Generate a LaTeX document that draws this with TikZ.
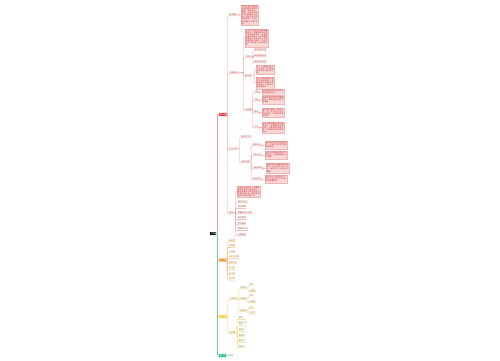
\documentclass[tikz,border=0pt]{standalone}
\usepackage{fontspec}
\setmainfont{Noto Sans CJK SC}
\XeTeXlinebreaklocale "zh"
\XeTeXlinebreakskip=0pt plus 1pt
\definecolor{bred}{HTML}{E5403A}
\definecolor{rline}{HTML}{EBA09E}
\definecolor{rtext}{HTML}{A83A36}
\definecolor{bfill}{HTML}{F9D8D8}
\definecolor{bline}{HTML}{F0B4B4}
\definecolor{btext}{HTML}{C62828}
\definecolor{borange}{HTML}{F29B30}
\definecolor{oline}{HTML}{F5C07A}
\definecolor{otext}{HTML}{B8741A}
\definecolor{byellow}{HTML}{F1D23A}
\definecolor{yline}{HTML}{E9D47A}
\definecolor{ytext}{HTML}{8E7A1E}
\definecolor{bgreen}{HTML}{1DBA8C}
\definecolor{gline}{HTML}{6ACFB0}
\definecolor{gtext}{HTML}{2A8F6E}
% connector: elbow from parent to the underline of a label
\newcommand\mmlink[4]{\draw[#1] (#2.east) -- (#2.east -| #4,0) |- (#3.south west) -- (#3.south east);}
% connector: elbow from parent to the middle of a text block
\newcommand\mmblock[4]{\draw[#1] (#2.east) -- (#2.east -| #4,0) |- (#3.west);}
\begin{document}
\begin{tikzpicture}[x=1pt,y=-1pt,
  every node/.style={inner sep=0pt,outer sep=0pt},
  lab/.style={anchor=west,font=\fontsize{2}{2.4}\selectfont,inner xsep=0.4pt,inner ysep=0.35pt,align=left},
  rlab/.style={lab,text=rtext},
  olab/.style={lab,text=otext},
  ylab/.style={lab,text=ytext},
  glab/.style={lab,text=gtext},
  bx/.style={anchor=west,font=\fontsize{2}{2.4}\selectfont,text=white,inner xsep=0.8pt,inner ysep=0.6pt,rounded corners=0.3pt},
  blk/.style={anchor=north west,fill=bfill,draw=bline,line width=0.2pt,text=btext,font=\fontsize{1.9}{2.1}\selectfont,inner sep=0.6pt,align=justify},
  rl/.style={draw=rline,line width=0.45pt,rounded corners=0.8pt},
  ol/.style={draw=oline,line width=0.45pt,rounded corners=0.8pt},
  yl/.style={draw=yline,line width=0.45pt,rounded corners=0.8pt},
  gl/.style={draw=gline,line width=0.45pt,rounded corners=0.8pt},
  rootl/.style={line width=0.6pt,rounded corners=0.8pt}
]
\useasboundingbox[fill=white] (0,0) rectangle (500,360);

% root and main branches
\node[bx,fill=black] (root) at (210,233.5) {导图};
\node[bx,fill=bred] (r) at (219,114.5) {第一章};
\node[bx,fill=borange] (o) at (219,260) {第二章};
\node[bx,fill=byellow] (y) at (219,316.5) {第三章};
\node[bx,fill=bgreen] (g) at (218.5,355.5) {第四章};
\mmblock{rootl,draw=rline}{root}{r}{217.5}
\mmblock{rootl,draw=oline}{root}{o}{217.5}
\mmblock{rootl,draw=yline}{root}{y}{217.5}
\mmblock{rootl,draw=gline}{root}{g}{217.5}

% ---------- red branch ----------
\node[rlab] (ra) at (229,14.5) {基本概念};
\node[blk,text width=15.8,minimum height=20] (rab) at (241,5) {本章主要介绍相关的基本概念和理论基础，包括定义、性质、分类以及相互之间的联系与区别，是后续学习的重要前提，必须认真理解并牢固掌握。};
\node[rlab] (rb) at (229,72.5) {主要知识点};
\node[blk,text width=21.8,minimum height=16] (rba) at (245,29) {在学习过程中应当把握整体结构，理解各部分内容之间的逻辑关系，注意区分重点和难点，结合具体实例进行分析归纳，形成完整的知识体系，并在实践中不断加以运用和检验。};
\node[rlab] (rb2) at (245,56.5) {主特征};
\node[rlab] (rb2a) at (254,49.5) {具有客观性质};
\node[rlab] (rb2b) at (254,55.5) {具有普遍性质};
\node[rlab] (rb2c) at (254,61.5) {具有多样性质};
\node[rlab] (rb3) at (245,75.5) {两方面};
\node[blk,text width=16.8,minimum height=9] (rb3a) at (256,65) {第一方面是指在一定条件下表现出来的基本特征和规律。};
\node[blk,text width=16.8,minimum height=12] (rb3b) at (256,77) {第二方面强调实践中的具体应用，需要结合实际情况灵活处理，不断总结经验和教训。};
\node[rlab] (rb4) at (245,109.5) {四因素};
\node[rlab] (rb4a) at (254,91.5) {内因};
\node[rlab] (rb4b) at (254,99.5) {外因};
\node[rlab] (rb4c) at (254,111.5) {联系};
\node[rlab] (rb4d) at (254,126.5) {方法};
\node[blk,text width=20.8,minimum height=6] (rb4ab) at (262,89) {指事物发展变化的内在根本原因和动力。};
\node[blk,text width=20.8,minimum height=7] (rb4bb) at (262,96.5) {外部条件对其产生重要影响，需要综合考虑多种因素。};
\node[blk,text width=20.8,minimum height=8] (rb4cb) at (262,108) {两者相互联系、相互作用，在一定条件下可以相互转化，共同推动事物发展。};
\node[blk,text width=20.8,minimum height=10] (rb4db) at (262,122) {分析问题时要坚持全面的观点，既要看到主要方面，也要看到次要方面，做到具体问题具体分析。};
\node[rlab] (rc) at (229,148.5) {学习方法};
\node[rlab] (rc1) at (241,136.5) {理论的学习};
\node[rlab] (rc2) at (241,161.5) {具体步骤};
\node[rlab] (rc2a) at (252.5,144.5) {联系实际};
\node[rlab] (rc2b) at (252.5,154.5) {比较分析};
\node[rlab] (rc2c) at (252.5,167.5) {归纳演绎法};
\node[rlab] (rc2d) at (252.5,178.5) {总结反思};
\node[blk,text width=20.8,minimum height=7] (rc2ab) at (265,141.5) {坚持理论联系实际的原则，注重方法的科学性和有效性。};
\node[blk,text width=20.8,minimum height=7] (rc2bb) at (265,151.5) {通过比较找出共同点与不同点，加深理解和记忆效果。};
\node[blk,text width=21.8,minimum height=9] (rc2cb) at (266,163.5) {运用归纳与演绎相结合的方法，从个别到一般，再从一般到个别，逐步深入理解。};
\node[blk,text width=20.8,minimum height=8] (rc2db) at (265,175) {及时进行总结和反思，发现不足之处并加以改进和完善提高。};
\node[rlab] (rd) at (229,212.5) {要点};
\node[blk,text width=21.8,minimum height=11] (rdb) at (237,186) {本部分内容较多，需要在理解的基础上加强记忆，重点掌握各个要点的含义及其相互关系，并能灵活运用于实际问题之中。};
\node[rlab] (rd1) at (237.5,201.5) {概念与定义};
\node[rlab] (rd2) at (237.5,207) {基本原理};
\node[rlab] (rd3) at (237.5,212.5) {重要结论与应用};
\node[rlab] (rd4) at (237.5,218) {典型例题};
\node[rlab] (rd5) at (237.5,223.5) {常见错误};
\node[rlab] (rd6) at (237.5,229) {解题的方法};
\node[rlab] (rd7) at (237.5,234.5) {注意事项};

\foreach \c in {ra,rb,rc,rd} {\mmlink{rl}{r}{\c}{227.5}}
\mmblock{rl}{ra}{rab}{239.5}
\mmblock{rl}{rb}{rba}{243.5}
\foreach \c in {rb2,rb3,rb4} {\mmlink{rl}{rb}{\c}{243.5}}
\foreach \c in {rb2a,rb2b,rb2c} {\mmlink{rl}{rb2}{\c}{252.8}}
\foreach \c in {rb3a,rb3b} {\mmblock{rl}{rb3}{\c}{254.2}}
\foreach \c in {rb4a,rb4b,rb4c,rb4d} {\mmlink{rl}{rb4}{\c}{252.5}}
\foreach \c in {a,b,c,d} {\draw[rl] (rb4\c.south east) -- ++(0.6,0) |- (rb4\c b.west);}
\foreach \c in {rc1,rc2} {\mmlink{rl}{rc}{\c}{239.5}}
\foreach \c in {rc2a,rc2b,rc2c,rc2d} {\mmlink{rl}{rc2}{\c}{251.2}}
\foreach \c in {a,b,c,d} {\draw[rl] (rc2\c.south east) -- ++(0.6,0) |- (rc2\c b.west);}
\mmblock{rl}{rd}{rdb}{235.5}
\foreach \c in {rd1,rd2,rd3,rd4,rd5,rd6,rd7} {\mmlink{rl}{rd}{\c}{235.5}}

% ---------- orange branch ----------
\node[olab] (o1) at (228.5,240.5) {概述篇};
\node[olab] (o2) at (228.5,246) {原理篇};
\node[olab] (o3) at (228.5,251.5) {方法篇};
\node[olab] (o4) at (228.5,257) {综合应用题};
\node[olab] (o5) at (228.5,262.5) {案例分析};
\node[olab] (o6) at (228.5,268) {练习题};
\node[olab] (o7) at (228.5,273.5) {复习题};
\node[olab] (o8) at (228.5,279) {测试题};
\foreach \c in {o1,o2,o3,o4,o5,o6,o7,o8} {\mmlink{ol}{o}{\c}{227.2}}

% ---------- yellow branch ----------
\node[ylab] (y1) at (229,298.5) {分类标准};
\node[ylab] (y1a) at (240,287.5) {按性质};
\node[ylab] (y1b) at (240,298.5) {按来源};
\node[ylab] (y1c) at (240,310.5) {按用途};
\node[ylab] (y1a1) at (249,284.7) {甲类};
\node[ylab] (y1a2) at (249,290.3) {乙类型};
\node[ylab] (y1b1) at (249,295.7) {内部};
\node[ylab] (y1b2) at (249,301.3) {外部的};
\node[ylab] (y1c1) at (249,307.3) {生产};
\node[ylab] (y1c2) at (249,312.9) {生活类};
\node[ylab] (y2) at (229,332.5) {实例篇};
\node[ylab] (y2a) at (238.5,318) {案例一};
\node[ylab] (y2b) at (238.5,324) {案例二的\\分析};
\node[ylab] (y2c) at (238.5,330) {案例三};
\node[ylab] (y2d) at (238.5,335.5) {案例四};
\node[ylab] (y2e) at (238.5,341) {案例五};
\node[ylab] (y2f) at (238.5,346.5) {案例六};
\foreach \c in {y1,y2} {\mmlink{yl}{y}{\c}{227.8}}
\foreach \c in {y1a,y1b,y1c} {\mmlink{yl}{y1}{\c}{238.8}}
\foreach \c in {y1a1,y1a2} {\mmlink{yl}{y1a}{\c}{247.9}}
\foreach \c in {y1b1,y1b2} {\mmlink{yl}{y1b}{\c}{247.9}}
\foreach \c in {y1c1,y1c2} {\mmlink{yl}{y1c}{\c}{247.9}}
\foreach \c in {y2a,y2b,y2c,y2d,y2e,y2f} {\mmlink{yl}{y2}{\c}{237.2}}

% ---------- green branch ----------
\node[glab] (g1) at (229,355.5) {总结};
\mmblock{gl}{g}{g1}{228.5}
\end{tikzpicture}
\end{document}
